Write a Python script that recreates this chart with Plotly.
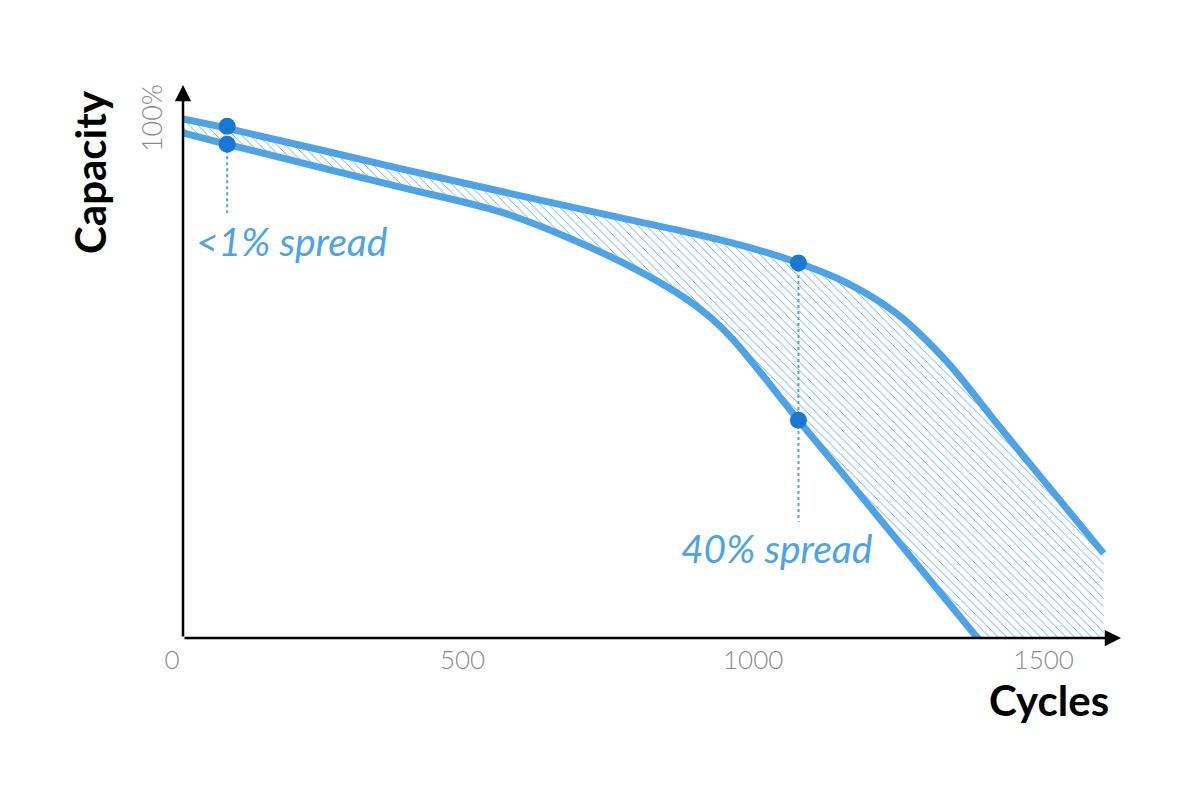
import plotly.graph_objects as go

# capacity fade curves (cycles, % capacity)
best_cycles = [0, 76, 374, 546, 718, 890, 971, 1059, 1143, 1229, 1315, 1406, 1492, 1584]
best_capacity = [100.6, 98.8, 91.0, 86.6, 82.3, 78.1, 75.8, 72.7, 68.8, 62.8, 53.5, 40.8, 29.0, 16.4]

worst_cycles = [0, 76, 374, 546, 661, 775, 861, 907, 947, 1059, 1143, 1257, 1367, 1584]
worst_capacity = [97.9, 95.7, 87.4, 82.6, 77.7, 71.7, 66.1, 62.2, 57.8, 42.2, 30.8, 15.1, 0.0, -29.8]

# spread markers and their guide lines
early_cycle = 76
early_points = [99.2, 95.7]
early_guide = [95.7, 82.4]
late_cycle = 1059
late_points = [72.7, 42.2]
late_guide = [72.7, 22.5]

labels = ["<1% spread", "40% spread"]
label_cycles = [188, 1022]
label_capacity = [76.9, 17.4]

x_ticks = [0, 500, 1000, 1500]
y_ticks = [100]
x_max = 1614
y_max = 107.2

blue = "#4DA3E6"
dark_blue = "#1A78D2"
grey = "#8A8A8A"
font = "Lato"

fig = go.Figure()

# hatched band between best and worst cell
fig.add_trace(go.Scatter(x=best_cycles, y=best_capacity, mode="lines",
                         line=dict(color=blue, width=0, shape="spline"),
                         hoverinfo="skip", showlegend=False))
fig.add_trace(go.Scatter(x=worst_cycles, y=worst_capacity, mode="lines",
                         line=dict(color=blue, width=0, shape="spline"),
                         fill="tonexty", fillcolor="white",
                         fillpattern=dict(shape="\\", fgcolor="rgb(77,163,230)", bgcolor="white",
                                          fgopacity=1, size=6, solidity=0.14,
                                          fillmode="replace"),
                         hoverinfo="skip", showlegend=False))

# thick outline curves
fig.add_trace(go.Scatter(x=best_cycles, y=best_capacity, mode="lines",
                         line=dict(color=blue, width=7, shape="spline"),
                         showlegend=False))
fig.add_trace(go.Scatter(x=worst_cycles, y=worst_capacity, mode="lines",
                         line=dict(color=blue, width=7, shape="spline"),
                         showlegend=False))

# dotted guides
fig.add_trace(go.Scatter(x=[early_cycle] * 2, y=early_guide, mode="lines",
                         line=dict(color=blue, width=2, dash="dot"), showlegend=False))
fig.add_trace(go.Scatter(x=[late_cycle] * 2, y=late_guide, mode="lines",
                         line=dict(color=blue, width=2, dash="dot"), showlegend=False))

# markers
fig.add_trace(go.Scatter(x=[early_cycle] * 2 + [late_cycle] * 2,
                         y=early_points + late_points, mode="markers",
                         marker=dict(color=dark_blue, size=17), showlegend=False))

for txt, cx, cy in zip(labels, label_cycles, label_capacity):
    fig.add_annotation(x=cx, y=cy, text=txt, showarrow=False,
                       xanchor="center", yanchor="middle",
                       font=dict(family=font, size=39, color=blue, style="italic"))

# axis arrows
fig.add_annotation(x=x_max, y=0, ax=0, ay=0, axref="x", ayref="y", text="",
                   showarrow=True, arrowhead=2, arrowsize=1.3, arrowwidth=2.5,
                   arrowcolor="black")
fig.add_annotation(x=0, y=y_max, ax=0, ay=0, axref="x", ayref="y", text="",
                   showarrow=True, arrowhead=2, arrowsize=1.3, arrowwidth=2.5,
                   arrowcolor="black")

# axis titles
fig.add_annotation(x=-0.099, y=0.843, xref="paper", yref="paper", text="<b>Capacity</b>",
                   textangle=-90, showarrow=False, xanchor="center", yanchor="middle",
                   font=dict(family=font, size=42, color="black"))
fig.add_annotation(x=0.923, y=-0.112, xref="paper", yref="paper", text="<b>Cycles</b>",
                   showarrow=False, xanchor="center", yanchor="middle",
                   font=dict(family=font, size=42, color="black"))

fig.update_xaxes(range=[0, x_max], showgrid=False, zeroline=False, showline=False,
                 tickvals=x_ticks, ticks="", ticklabelshift=-11, ticklabelstandoff=4,
                 tickfont=dict(family=font, size=26, color=grey, weight=300))
fig.update_yaxes(range=[0, y_max], showgrid=False, zeroline=False, showline=False,
                 tickvals=y_ticks, ticktext=["100%"], ticks="", tickangle=-90,
                 ticklabelstandoff=15,
                 tickfont=dict(family=font, size=27, color=grey, weight=300))

# the page body adds 8px, so margins are offset to keep the plot where it belongs
fig.update_layout(width=1200, height=800, plot_bgcolor="white", paper_bgcolor="white",
                  margin=dict(l=175, r=87, t=77, b=170), showlegend=False)

fig.write_html("out.html")
